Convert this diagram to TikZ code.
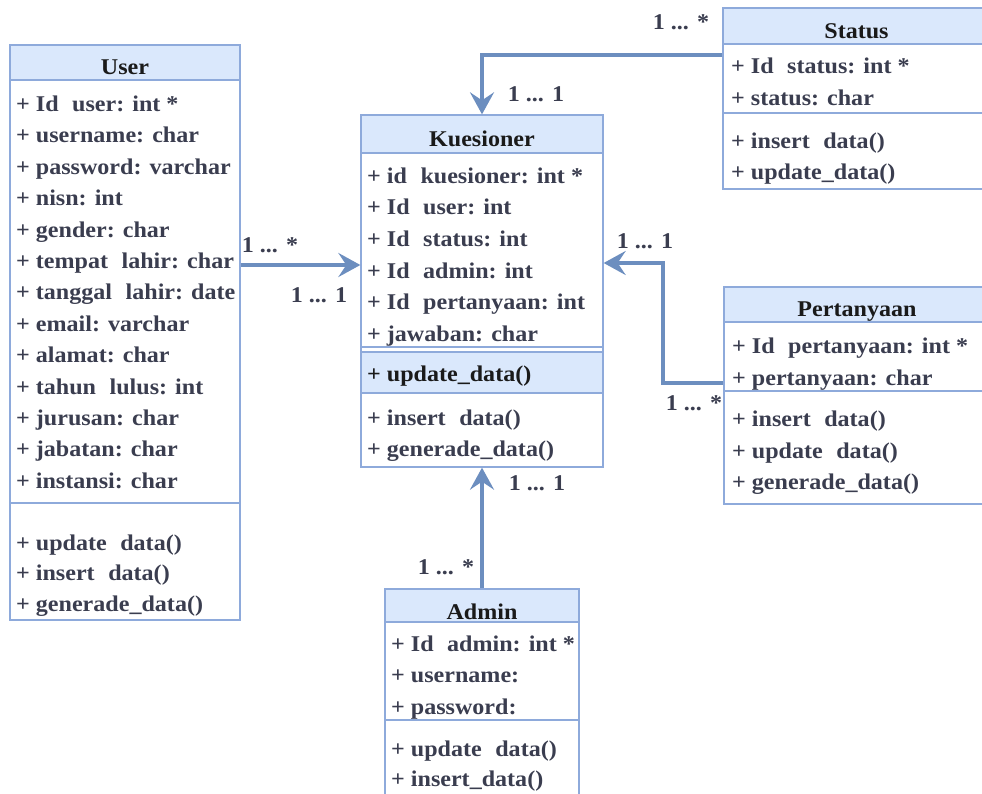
\documentclass[tikz,border=0pt]{standalone}
\usepackage{fontspec}
\setmainfont{Liberation Serif}[FakeStretch=1.07]
\usetikzlibrary{arrows.meta,fit}
\definecolor{hdrfill}{HTML}{DAE8FC}
\definecolor{boxedge}{HTML}{8EAADB}
\definecolor{linkblue}{HTML}{6C8EBF}
\definecolor{rowtext}{HTML}{3A3D4F}
\definecolor{titletext}{HTML}{1A1A1A}
\newcommand\twosp{\hspace{0.6em}}
\begin{document}
\begin{tikzpicture}[x=1pt,y=-1pt,
  font=\fontsize{22.5}{27}\selectfont\bfseries,
  classbox/.style={draw=boxedge, line width=1.3pt, inner sep=0pt},
  hdrbox/.style={classbox, fill=hdrfill},
  sepline/.style={draw=boxedge, line width=1.3pt},
  rowtxt/.style={anchor=base west, inner sep=0pt, text=rowtext},
  titletxt/.style={anchor=base, inner sep=0pt, text=titletext},
  mult/.style={inner sep=0pt, text=rowtext},
  link/.style={draw=linkblue, line width=4.5pt,
    -{Stealth[length=22pt,width=24pt,inset=8pt]}}]
\useasboundingbox (0,0) rectangle (982,794);
\clip (0,0) rectangle (982,794);

% ---------- User ----------
\node[classbox, fit={(10,45)(240,620)}] (user) {};
\node[hdrbox, fit={(10,45)(240,80)}] (user-h) {};
\node[titletxt] (user-t) at (125,75) {User};
\foreach \t [count=\i] in {+ Id\twosp user: int *, + username: char,
  + password: varchar, + nisn: int, + gender: char,
  + tempat\twosp lahir: char, + tanggal\twosp lahir: date,
  + email: varchar, + alamat: char, + tahun\twosp lulus: int,
  + jurusan: char, + jabatan: char, + instansi: char}
  \node[rowtxt] (user-a\i) at (16,80.1+31.4*\i) {\t};
\draw[sepline] (user.west |- 0,503) -- (user.east |- 0,503);
\node[rowtxt] (user-m1) at (16,550) {+ update\twosp data()};
\node[rowtxt] (user-m2) at (16,580.7) {+ insert\twosp data()};
\node[rowtxt] (user-m3) at (16,611) {+ generade\_data()};

% ---------- Kuesioner ----------
\node[classbox, fit={(361,115)(603,467)}] (kues) {};
\node[hdrbox, fit={(361,115)(603,153)}] (kues-h) {};
\node[titletxt] (kues-t) at (482,146.7) {Kuesioner};
\foreach \t [count=\i] in {+ id\twosp kuesioner: int *, + Id\twosp user: int,
  + Id\twosp status: int, + Id\twosp admin: int,
  + Id\twosp pertanyaan: int, + jawaban: char}
  \node[rowtxt] (kues-a\i) at (367,151.7+31.6*\i) {\t};
\draw[sepline] (kues.west |- 0,347) -- (kues.east |- 0,347);
\node[hdrbox, fit={(361,352)(603,393)}] (kues-o) {};
\node[rowtxt, text=titletext] (kues-m1) at (367,381.7) {+ update\_data()};
\node[rowtxt] (kues-m2) at (367,425) {+ insert\twosp data()};
\node[rowtxt] (kues-m3) at (367,456) {+ generade\_data()};

% ---------- Status ----------
\node[classbox, fit={(723,8)(990,189)}] (status) {};
\node[hdrbox, fit={(723,8)(990,44)}] (status-h) {};
\node[titletxt] (status-t) at (856.5,38.3) {Status};
\node[rowtxt] (status-a1) at (731,74) {+ Id\twosp status: int *};
\node[rowtxt] (status-a2) at (731,106) {+ status: char};
\draw[sepline] (status.west |- 0,113) -- (status.east |- 0,113);
\node[rowtxt] (status-m1) at (731,148.3) {+ insert\twosp data()};
\node[rowtxt] (status-m2) at (731,180) {+ update\_data()};

% ---------- Pertanyaan ----------
\node[classbox, fit={(724,287)(990,504)}] (pert) {};
\node[hdrbox, fit={(724,287)(990,322)}] (pert-h) {};
\node[titletxt] (pert-t) at (857,316.7) {Pertanyaan};
\node[rowtxt] (pert-a1) at (732,353.3) {+ Id\twosp pertanyaan: int *};
\node[rowtxt] (pert-a2) at (732,385) {+ pertanyaan: char};
\draw[sepline] (pert.west |- 0,391) -- (pert.east |- 0,391);
\node[rowtxt] (pert-m1) at (732,426.7) {+ insert\twosp data()};
\node[rowtxt] (pert-m2) at (732,458.3) {+ update\twosp data()};
\node[rowtxt] (pert-m3) at (732,489.3) {+ generade\_data()};

% ---------- Admin ----------
\node[classbox, fit={(385,589)(579,800)}] (admin) {};
\node[hdrbox, fit={(385,589)(579,622)}] (admin-h) {};
\node[titletxt] (admin-t) at (482,619.3) {Admin};
\node[rowtxt] (admin-a1) at (391,651.7) {+ Id\twosp admin: int *};
\node[rowtxt] (admin-a2) at (391,682.7) {+ username:};
\node[rowtxt] (admin-a3) at (391,714) {+ password:};
\draw[sepline] (admin.west |- 0,720) -- (admin.east |- 0,720);
\node[rowtxt] (admin-m1) at (391,756.7) {+ update\twosp data()};
\node[rowtxt] (admin-m2) at (391,786.7) {+ insert\_data()};

% ---------- Associations ----------
\coordinate (pert-bend) at (663,263);
\draw[link] (user.east |- 0,265) -- (kues.west |- 0,265);
\draw[link] (status.west |- 0,55) -| (kues.north);
\draw[link] (pert.west |- 0,383) -| (pert-bend) -- (kues.east |- pert-bend);
\draw[link] (admin.north) -- (kues.south);

% ---------- Multiplicities ----------
\node[mult] (m-user-a) at (270,245) {1 ... *};
\node[mult] (m-user-b) at (319,295) {1 ... 1};
\node[mult] (m-stat-a) at (681,22) {1 ... *};
\node[mult] (m-stat-b) at (536,94) {1 ... 1};
\node[mult] (m-pert-a) at (645,241) {1 ... 1};
\node[mult] (m-pert-b) at (694,403) {1 ... *};
\node[mult] (m-adm-a) at (537,483) {1 ... 1};
\node[mult] (m-adm-b) at (446,567) {1 ... *};
\end{tikzpicture}
\end{document}
